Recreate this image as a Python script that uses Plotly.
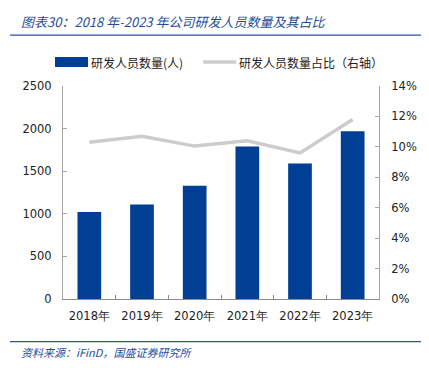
import plotly.graph_objects as go

categories = ["2018年", "2019年", "2020年", "2021年", "2022年", "2023年"]
staff = [1020, 1110, 1330, 1790, 1590, 1970]
ratio = [10.3, 10.7, 10.05, 10.4, 9.6, 11.8]
left_ticks = [0, 500, 1000, 1500, 2000, 2500]
right_ticks = [0, 2, 4, 6, 8, 10, 12, 14]
series_names = ["研发人员数量(人)", "研发人员数量占比（右轴）"]

# The page body has an 8px default margin, so the figure is sized/offset to compensate.
OFF = 8
W, H = 429 - OFF, 368 - OFF
ml, mt = 63 - OFF, 86 - OFF
mr = W - (378.7 - OFF)
mb = H - (299.3 - OFF)
BAR_COLOR = "#003f94"
LINE_COLOR = "#cccccc"

fig = go.Figure()
fig.add_trace(go.Bar(x=categories, y=staff, name=series_names[0],
                     marker=dict(color=BAR_COLOR, line=dict(width=0)), yaxis="y"))
fig.add_trace(go.Scatter(x=categories, y=ratio, name=series_names[1],
                         mode="lines", line=dict(color=LINE_COLOR, width=3.5), yaxis="y2"))

axis_font = dict(family="DejaVu Sans", size=11.5, color="#222222")
fig.update_layout(
    width=W, height=H,
    margin=dict(l=ml, r=mr, t=mt, b=mb, autoexpand=False),
    paper_bgcolor="white", plot_bgcolor="white",
    bargap=0.55,
    showlegend=False,
    xaxis=dict(type="category", showline=True, linecolor="#8c8c8c", linewidth=1.2,
               ticks="inside", tickson="boundaries", ticklen=4, tickcolor="#8c8c8c",
               tickfont=axis_font, ticklabelstandoff=6,
               showgrid=False, zeroline=False),
    yaxis=dict(range=[0, 2500], tickvals=left_ticks, showline=True, linecolor="#a6a6a6",
               ticks="inside", ticklen=4, tickcolor="#a6a6a6", tickfont=axis_font,
               ticklabelstandoff=8, showgrid=False, zeroline=False),
    yaxis2=dict(range=[0, 14], tickvals=right_ticks, ticktext=[f"{v}%" for v in right_ticks],
                overlaying="y", side="right", showline=True, linecolor="#a6a6a6",
                ticks="inside", ticklen=4, tickcolor="#a6a6a6", tickfont=axis_font,
                ticklabelstandoff=9, showgrid=False, zeroline=False),
)


def px_x(x):
    return (x - OFF - ml) / (W - ml - mr)


def px_y(y):
    return 1 - (y - OFF - mt) / (H - mt - mb)


# Legend (drawn manually so it fits on one row as in the reference)
leg_y = 62
fig.add_shape(type="rect", xref="paper", yref="paper", x0=px_x(55), x1=px_x(88),
              y0=px_y(leg_y + 5), y1=px_y(leg_y - 5), fillcolor=BAR_COLOR, line=dict(width=0))
fig.add_annotation(text=series_names[0], xref="paper", yref="paper", x=px_x(89), y=px_y(leg_y),
                   xanchor="left", yanchor="middle", showarrow=False,
                   font=dict(family="Noto Sans CJK SC", size=12, color="#222222"))
fig.add_shape(type="line", xref="paper", yref="paper", x0=px_x(203), x1=px_x(236),
              y0=px_y(leg_y), y1=px_y(leg_y), line=dict(color=LINE_COLOR, width=3.5))
fig.add_annotation(text=series_names[1], xref="paper", yref="paper", x=px_x(237), y=px_y(leg_y),
                   xanchor="left", yanchor="middle", showarrow=False,
                   font=dict(family="Noto Sans CJK SC", size=12, color="#222222"))

fig.add_annotation(text="<i>图表30：2018 年-2023 年公司研发人员数量及其占比</i>",
                   xref="paper", yref="paper", x=px_x(19), y=px_y(21),
                   xanchor="left", yanchor="middle", showarrow=False,
                   font=dict(family="Noto Sans CJK SC", size=13, color="#1f4e9a"))
fig.add_annotation(text="<i>资料来源：iFinD，国盛证券研究所</i>",
                   xref="paper", yref="paper", x=px_x(19), y=px_y(352),
                   xanchor="left", yanchor="middle", showarrow=False,
                   font=dict(family="Noto Sans CJK SC", size=11, color="#1f4e9a"))

for yy in (35, 342):
    fig.add_shape(type="line", xref="paper", yref="paper", x0=px_x(10), x1=px_x(429),
                  y0=px_y(yy), y1=px_y(yy), line=dict(color="#2f5597", width=1.3))

fig.write_html("out.html")
